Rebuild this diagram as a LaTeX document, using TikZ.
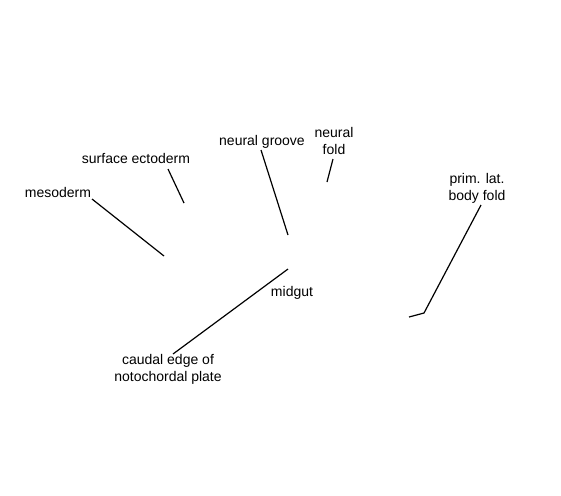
\documentclass[tikz,border=0pt]{standalone}
\usepackage{fontspec}
\setmainfont{Liberation Sans}
\usetikzlibrary{positioning}

\begin{document}
\begin{tikzpicture}[
  x=0.5pt,y=-0.5pt,
  lbl/.style={inner sep=0pt,align=center,font=\fontsize{7}{8.4}\selectfont},
  leader/.style={line width=0.6pt,draw=black}
]
\useasboundingbox (0,0) rectangle (561,495);
% labels
\node[lbl] (meso) at (58,192) {mesoderm};
\node[lbl] (surfect) at (136,158) {surface ectoderm};
\node[lbl] (ngroove) at (262,142) {neural groove};
\node[lbl] (nfold) at (334,141) {neural\\fold};
\node[lbl] (latfold) at (477,188) {prim. lat.\\body fold};
\node[lbl] (midgut) at (292,293) {midgut};
\node[lbl] (caudal) at (168,369) {caudal edge of\\notochordal plate};
% leader ends
\coordinate (meso-a) at (92,199);
\coordinate (meso-b) at (164,256);
\coordinate (surfect-a) at (168,169);
\coordinate (surfect-b) at (184,203);
\coordinate (ngroove-a) at (261,150);
\coordinate (ngroove-b) at (288,235);
\coordinate (nfold-a) at (333,159);
\coordinate (nfold-b) at (327,182);
\coordinate (latfold-a) at (481,205);
\coordinate (latfold-k) at (424,313);
\coordinate (latfold-b) at (409,317);
\coordinate (caudal-a) at (173,354);
\coordinate (caudal-b) at (288,269);
% leaders
\draw[leader] (meso-a) -- (meso-b);
\draw[leader] (surfect-a) -- (surfect-b);
\draw[leader] (ngroove-a) -- (ngroove-b);
\draw[leader] (nfold-a) -- (nfold-b);
\draw[leader] (latfold-a) -- (latfold-k) -- (latfold-b);
\draw[leader] (caudal-a) -- (caudal-b);
\end{tikzpicture}
\end{document}
